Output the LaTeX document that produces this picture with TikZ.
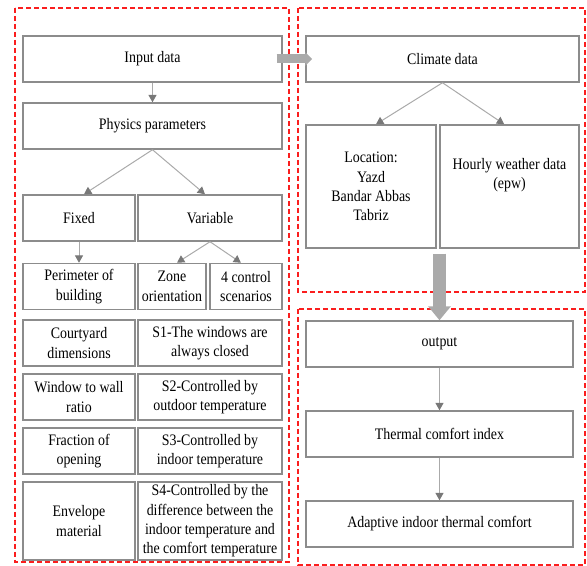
\documentclass[tikz,border=0pt]{standalone}
\usepackage{fontspec}
\setmainfont{Liberation Serif}[FakeStretch=0.87]
\usetikzlibrary{arrows.meta}
\definecolor{boxgray}{RGB}{140,140,140}
\definecolor{linegray}{RGB}{170,170,170}
\definecolor{headgray}{RGB}{120,120,120}
\definecolor{dashred}{RGB}{250,30,30}
\begin{document}
\begin{tikzpicture}[x=0.75pt,y=-0.75pt,
  box/.style={draw=boxgray,line width=1.1pt,align=center,inner sep=1pt,
    minimum height=34.5pt,font=\fontsize{12}{14.5}\selectfont},
  flow/.style={draw=linegray,line width=0.75pt,
    -{Triangle[length=5.5pt,width=6pt,color=headgray,fill=headgray]}},
  frame/.style={draw=dashred,line width=1pt,dash pattern=on 4pt off 2pt},
  bigarrow/.style={draw=linegray,-{Triangle[length=#1]}}]
\useasboundingbox (0,0) rectangle (587,566);

% dashed frames
\draw[frame] (15,8) rectangle (289,562);
\draw[frame] (298,8) rectangle (585,292);
\draw[frame] (298,309) rectangle (585,565);

% input side
\node[box,minimum width=194.25pt] (input) at (152.5,59) {Input data};
\node[box,minimum width=194.25pt] (phys) at (152.5,126) {Physics parameters};
\node[box,minimum width=84pt] (fixed) at (79,218) {Fixed};
\node[box,minimum width=108pt] (variable) at (210,218) {Variable};
\node[box,minimum width=84pt] (perim) at (79,286.5) {Perimeter of\\building};
\node[box,minimum width=51pt] (zone) at (172,286.5) {Zone\\orientation};
\node[box,minimum width=54pt] (ctrl) at (246,286.5) {4 control\\scenarios};
\node[box,minimum width=84pt] (court) at (79,343) {Courtyard\\dimensions};
\node[box,minimum width=108pt] (sone) at (210,343) {S1-The windows are\\always closed};
\node[box,minimum width=84pt] (wwr) at (79,397) {Window to wall\\ratio};
\node[box,minimum width=108pt] (stwo) at (210,397) {S2-Controlled by\\outdoor temperature};
\node[box,minimum width=84pt] (frac) at (79,451) {Fraction of\\opening};
\node[box,minimum width=108pt] (sthree) at (210,451) {S3-Controlled by\\indoor temperature};
\node[box,minimum width=84pt,minimum height=58.5pt] (envel) at (79,521) {Envelope\\material};
\node[box,minimum width=108pt,minimum height=58.5pt] (sfour) at (210,521)
  {S4-Controlled by the\\difference between the\\indoor temperature and\\the comfort temperature};

\draw[flow] (input.south) -- (phys.north);
\draw[flow] (phys.south) -- ([xshift=3.75pt]fixed.north);
\draw[flow] (phys.south) -- ([xshift=-3.75pt]variable.north);
\draw[flow] (fixed.south) -- (perim.north);
\draw[flow] (variable.south) -- ([xshift=3.75pt]zone.north);
\draw[flow] (variable.south) -- ([xshift=-3.75pt]ctrl.north);

% climate side
\node[box,minimum width=204.75pt] (climate) at (442.5,59) {Climate data};
\node[box,minimum width=97.5pt,minimum height=92.25pt] (loc) at (371,186.5)
  {Location:\\Yazd\\Bandar Abbas\\Tabriz};
\node[box,minimum width=104.25pt,minimum height=92.25pt] (hourly) at (509.5,186.5)
  {Hourly weather data\\(epw)\\[5pt]};

\draw[flow] (climate.south) -- ([xshift=3.75pt]loc.north);
\draw[flow] (climate.south) -- ([xshift=-4pt]hourly.north);

% output side
\node[box,minimum width=200.25pt] (output) at (439.5,344) {output};
\node[box,minimum width=200.25pt] (tci) at (439.5,434) {Thermal comfort index};
\node[box,minimum width=200.25pt] (adapt) at (439.5,524) {Adaptive indoor thermal comfort};

\draw[flow] (output.south) -- (tci.north);
\draw[flow] (tci.south) -- (adapt.north);

% big arrows
\draw[bigarrow=5.25pt,line width=6.75pt,arrows={-Triangle[length=5.25pt,width=10pt]}]
  ([xshift=-4.5pt]input.east) -- ([xshift=5.25pt]climate.west);
\draw[bigarrow=10.5pt,line width=9.75pt,arrows={-Triangle[length=10.5pt,width=16.5pt]}]
  ([yshift=-3.75pt]output.north |- loc.south) -- (output.north);
\end{tikzpicture}
\end{document}
